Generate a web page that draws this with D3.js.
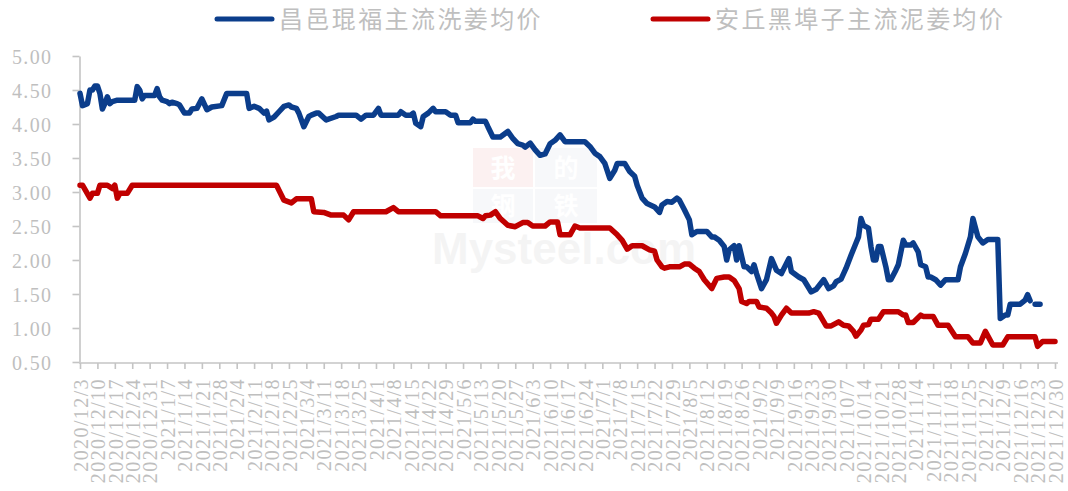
<!DOCTYPE html>
<html>
<head>
<meta charset="utf-8">
<script src="https://cdn.jsdelivr.net/npm/d3@7"></script>
<style>
  body { margin: 0; background: #fff; }
  .axis text { font-family: "Liberation Serif", serif; font-size: 20px; fill: #bfbfbf; letter-spacing: 1.4px; }
  .axis line, .axis path { stroke: #c4c4c4; stroke-width: 1.6; }
</style>
</head>
<body>
<svg id="chart" width="1068" height="491"></svg>
<script>
// series names shown in the legend
const seriesNames = ["昌邑琨福主流洗姜均价", "安丘黑埠子主流泥姜均价"];
const yTicks = [0.5, 1.0, 1.5, 2.0, 2.5, 3.0, 3.5, 4.0, 4.5, 5.0];
const dateRange = ["2020/12/3", "2021/12/30"];

// 昌邑琨福 wash ginger (blue)
const blueSeries = [
  ["2020/12/3",4.45],["2020/12/4",4.27],["2020/12/6",4.30],["2020/12/7",4.50],["2020/12/8",4.50],
  ["2020/12/9",4.56],["2020/12/10",4.56],["2020/12/11",4.45],["2020/12/12",4.22],["2020/12/13",4.30],
  ["2020/12/14",4.40],["2020/12/15",4.30],["2020/12/16",4.33],["2020/12/18",4.35],["2020/12/25",4.35],
  ["2020/12/26",4.55],["2020/12/27",4.50],["2020/12/28",4.37],["2020/12/29",4.42],["2021/1/2",4.42],
  ["2021/1/3",4.52],["2021/1/4",4.40],["2021/1/5",4.35],["2021/1/7",4.33],["2021/1/8",4.30],
  ["2021/1/9",4.32],["2021/1/11",4.30],["2021/1/12",4.28],["2021/1/14",4.16],["2021/1/16",4.16],
  ["2021/1/17",4.22],["2021/1/19",4.23],["2021/1/21",4.37],["2021/1/23",4.21],["2021/1/25",4.25],
  ["2021/1/29",4.27],["2021/1/31",4.45],["2021/2/8",4.45],["2021/2/9",4.23],["2021/2/11",4.26],
  ["2021/2/13",4.23],["2021/2/15",4.16],["2021/2/16",4.19],["2021/2/17",4.06],["2021/2/19",4.10],
  ["2021/2/21",4.18],["2021/2/23",4.26],["2021/2/25",4.28],["2021/2/26",4.25],["2021/2/28",4.23],
  ["2021/3/1",4.16],["2021/3/3",3.96],["2021/3/5",4.11],["2021/3/6",4.13],["2021/3/8",4.16],
  ["2021/3/9",4.16],["2021/3/12",4.06],["2021/3/16",4.11],["2021/3/17",4.13],["2021/3/24",4.13],
  ["2021/3/26",4.07],["2021/3/28",4.13],["2021/3/31",4.13],["2021/4/2",4.23],["2021/4/3",4.13],
  ["2021/4/10",4.13],["2021/4/11",4.18],["2021/4/13",4.13],["2021/4/15",4.13],["2021/4/16",4.16],
  ["2021/4/17",4.01],["2021/4/19",3.96],["2021/4/20",4.11],["2021/4/22",4.16],["2021/4/24",4.23],
  ["2021/4/25",4.18],["2021/4/29",4.18],["2021/5/1",4.13],["2021/5/3",4.13],["2021/5/4",4.02],
  ["2021/5/9",4.02],["2021/5/10",4.07],["2021/5/11",4.04],["2021/5/15",4.04],["2021/5/16",3.96],
  ["2021/5/18",3.81],["2021/5/21",3.81],["2021/5/24",3.89],["2021/5/26",3.79],["2021/5/28",3.71],
  ["2021/5/30",3.69],["2021/5/31",3.66],["2021/6/2",3.72],["2021/6/4",3.62],["2021/6/6",3.54],
  ["2021/6/8",3.56],["2021/6/10",3.71],["2021/6/12",3.76],["2021/6/14",3.84],["2021/6/16",3.74],
  ["2021/6/24",3.74],["2021/6/26",3.67],["2021/6/28",3.57],["2021/6/30",3.52],["2021/7/2",3.42],
  ["2021/7/4",3.20],["2021/7/6",3.32],["2021/7/7",3.42],["2021/7/10",3.42],["2021/7/12",3.30],
  ["2021/7/14",3.23],["2021/7/15",3.10],["2021/7/17",2.91],["2021/7/19",2.83],["2021/7/22",2.78],
  ["2021/7/24",2.70],["2021/7/25",2.81],["2021/7/27",2.86],["2021/7/29",2.85],["2021/7/31",2.91],
  ["2021/8/1",2.88],["2021/8/3",2.74],["2021/8/5",2.59],["2021/8/6",2.37],["2021/8/8",2.42],
  ["2021/8/12",2.42],["2021/8/14",2.34],["2021/8/15",2.34],["2021/8/17",2.29],["2021/8/19",2.20],
  ["2021/8/20",2.00],["2021/8/21",2.15],["2021/8/23",2.21],["2021/8/24",2.00],["2021/8/25",2.21],
  ["2021/8/27",1.90],["2021/8/28",1.90],["2021/8/30",1.83],["2021/8/31",1.93],["2021/9/1",1.80],
  ["2021/9/3",1.58],["2021/9/5",1.71],["2021/9/7",2.02],["2021/9/9",1.85],["2021/9/11",1.80],
  ["2021/9/14",2.02],["2021/9/15",1.83],["2021/9/18",1.75],["2021/9/20",1.71],["2021/9/23",1.53],
  ["2021/9/25",1.57],["2021/9/28",1.71],["2021/9/30",1.58],["2021/10/2",1.62],["2021/10/3",1.68],
  ["2021/10/5",1.72],["2021/10/7",1.88],["2021/10/9",2.07],["2021/10/11",2.25],["2021/10/12",2.34],
  ["2021/10/13",2.61],["2021/10/14",2.51],["2021/10/16",2.47],["2021/10/17",2.20],["2021/10/18",2.00],
  ["2021/10/19",2.00],["2021/10/20",2.20],["2021/10/21",2.20],["2021/10/23",1.90],["2021/10/24",1.71],
  ["2021/10/25",1.71],["2021/10/27",1.85],["2021/10/28",1.93],["2021/10/30",2.29],["2021/10/31",2.22],
  ["2021/11/2",2.22],["2021/11/3",2.25],["2021/11/5",2.12],["2021/11/6",1.93],["2021/11/8",1.90],
  ["2021/11/9",1.75],["2021/11/10",1.75],["2021/11/12",1.71],["2021/11/14",1.63],["2021/11/16",1.71],
  ["2021/11/21",1.71],["2021/11/22",1.90],["2021/11/24",2.10],["2021/11/26",2.34],["2021/11/27",2.61],
  ["2021/11/29",2.34],["2021/12/1",2.25],["2021/12/3",2.30],["2021/12/7",2.30],["2021/12/8",1.14],
  ["2021/12/10",1.19],["2021/12/11",1.19],["2021/12/12",1.35],["2021/12/16",1.35],["2021/12/18",1.41],
  ["2021/12/19",1.49],["2021/12/20",1.40],["2021/12/21",null],["2021/12/22",1.35],["2021/12/24",1.35]
];

// 安丘黑埠子 mud ginger (red)
const redSeries = [
  ["2020/12/3",3.10],["2020/12/4",3.10],["2020/12/7",2.91],["2020/12/8",2.98],["2020/12/10",2.98],
  ["2020/12/11",3.10],["2020/12/14",3.10],["2020/12/16",3.05],["2020/12/17",3.10],["2020/12/18",2.91],
  ["2020/12/19",2.98],["2020/12/22",2.98],["2020/12/24",3.10],["2021/2/20",3.10],["2021/2/23",2.88],
  ["2021/2/26",2.84],["2021/2/28",2.90],["2021/3/6",2.90],["2021/3/7",2.71],["2021/3/11",2.70],
  ["2021/3/14",2.66],["2021/3/19",2.66],["2021/3/21",2.59],["2021/3/23",2.71],["2021/4/5",2.71],
  ["2021/4/8",2.77],["2021/4/10",2.71],["2021/4/25",2.71],["2021/4/27",2.65],["2021/5/12",2.65],
  ["2021/5/14",2.61],["2021/5/15",2.65],["2021/5/17",2.66],["2021/5/19",2.71],["2021/5/21",2.61],
  ["2021/5/24",2.51],["2021/5/27",2.49],["2021/5/30",2.55],["2021/6/1",2.55],["2021/6/3",2.50],
  ["2021/6/8",2.50],["2021/6/10",2.56],["2021/6/13",2.56],["2021/6/14",2.37],["2021/6/18",2.37],
  ["2021/6/20",2.50],["2021/6/22",2.47],["2021/7/4",2.47],["2021/7/7",2.37],["2021/7/9",2.29],
  ["2021/7/11",2.16],["2021/7/13",2.21],["2021/7/17",2.21],["2021/7/20",2.15],["2021/7/22",2.13],
  ["2021/7/23",2.00],["2021/7/25",1.90],["2021/7/26",1.88],["2021/7/28",1.90],["2021/8/1",1.90],
  ["2021/8/3",1.94],["2021/8/5",1.94],["2021/8/7",1.88],["2021/8/9",1.83],["2021/8/11",1.71],
  ["2021/8/14",1.58],["2021/8/16",1.73],["2021/8/19",1.75],["2021/8/21",1.75],["2021/8/23",1.70],
  ["2021/8/25",1.58],["2021/8/26",1.39],["2021/8/28",1.36],["2021/8/29",1.39],["2021/9/1",1.39],
  ["2021/9/2",1.31],["2021/9/5",1.29],["2021/9/7",1.22],["2021/9/8",1.17],["2021/9/9",1.07],
  ["2021/9/11",1.19],["2021/9/13",1.29],["2021/9/15",1.22],["2021/9/22",1.22],["2021/9/24",1.24],
  ["2021/9/26",1.22],["2021/9/29",1.03],["2021/10/1",1.03],["2021/10/4",1.09],["2021/10/6",1.04],
  ["2021/10/8",1.03],["2021/10/10",0.95],["2021/10/11",0.88],["2021/10/13",0.97],["2021/10/14",1.04],
  ["2021/10/16",1.05],["2021/10/17",1.13],["2021/10/20",1.13],["2021/10/22",1.24],["2021/10/28",1.24],
  ["2021/10/30",1.19],["2021/10/31",1.19],["2021/11/1",1.08],["2021/11/3",1.08],["2021/11/6",1.19],
  ["2021/11/7",1.17],["2021/11/11",1.17],["2021/11/13",1.04],["2021/11/17",1.04],["2021/11/20",0.87],
  ["2021/11/25",0.87],["2021/11/27",0.78],["2021/11/30",0.78],["2021/12/2",0.95],["2021/12/5",0.75],
  ["2021/12/9",0.75],["2021/12/11",0.87],["2021/12/22",0.87],["2021/12/23",0.73],["2021/12/25",0.80],
  ["2021/12/30",0.80]
];

const colours = ["#0b3d8b", "#c00000"];

const svg = d3.select("#chart");
const parse = d3.timeParse("%Y/%m/%d");
const fmt = d3.timeFormat("%Y/%-m/%-d");

const start = parse(dateRange[0]), end = parse(dateRange[1]);
const x = d3.scaleTime().domain([start, end]).range([80, 1055]);
const y = d3.scaleLinear().domain([0.5, 5]).range([362, 56]);

// weekly ticks, like the excel date axis
const weekTicks = d3.timeDay.range(start, d3.timeDay.offset(end, 1), 7);

// very faint watermark behind the lines
const wm = svg.append("g").attr("class", "watermark").attr("opacity", 0.06);
wm.append("rect").attr("x", 473).attr("y", 148).attr("width", 60).attr("height", 39).attr("fill", "#d02020");
wm.append("rect").attr("x", 535).attr("y", 148).attr("width", 62).attr("height", 39).attr("fill", "#8090b0");
wm.append("rect").attr("x", 473).attr("y", 189).attr("width", 60).attr("height", 34).attr("fill", "#8090b0");
wm.append("rect").attr("x", 535).attr("y", 189).attr("width", 62).attr("height", 34).attr("fill", "#8090b0");
const wmChars = ["我", "的", "钢", "铁"];
wm.selectAll(".wmchar").data(wmChars)
  .join("text").attr("class", "wmchar")
  .attr("x", (d, i) => i % 2 === 0 ? 503 : 566)
  .attr("y", (d, i) => i < 2 ? 177 : 215)
  .attr("text-anchor", "middle")
  .style("font-family", "'Noto Sans CJK SC'").style("font-size", "25px").style("font-weight", "bold")
  .attr("fill", "#fff").text(d => d);
svg.append("text").attr("x", 432).attr("y", 264)
  .style("font-family", "Arial, 'Liberation Sans'").style("font-size", "44px").style("font-weight", "bold")
  .attr("fill", "#000").attr("opacity", 0.04).text("Mysteel.com");

// y axis
const yAxis = svg.append("g").attr("class", "axis")
  .attr("transform", "translate(79.5,0)")
  .call(d3.axisLeft(y).tickValues(yTicks).tickSize(7).tickSizeOuter(0).tickPadding(20).tickFormat(d3.format(".2f")));
yAxis.selectAll("text").attr("dy", "0.36em");

// x axis
const xAxis = svg.append("g").attr("class", "axis")
  .attr("transform", "translate(0,363)")
  .call(d3.axisBottom(x).tickValues(weekTicks).tickSize(6).tickSizeOuter(0).tickFormat(fmt));
xAxis.select(".domain").remove();
xAxis.append("line").attr("x1", 79).attr("x2", 1058).attr("y1", 0).attr("y2", 0);
xAxis.selectAll("text")
  .attr("transform", "rotate(-90)")
  .attr("x", -15).attr("y", 0).attr("dy", "0.36em")
  .style("text-anchor", "end");

// lines
const line = d3.line()
  .defined(d => d[1] !== null)
  .x(d => x(parse(d[0])))
  .y(d => y(d[1]));

svg.selectAll(".series")
  .data([blueSeries, redSeries])
  .join("path")
  .attr("class", "series")
  .attr("d", line)
  .attr("fill", "none")
  .attr("stroke", (d, i) => colours[i])
  .attr("stroke-width", 5.5)
  .attr("stroke-linejoin", "round")
  .attr("stroke-linecap", "round");

// legend
const legendX = [217, 653];
const legend = svg.selectAll(".legend")
  .data(seriesNames)
  .join("g").attr("class", "legend")
  .attr("transform", (d, i) => "translate(" + legendX[i] + ",19)");
legend.append("line").attr("x1", 0).attr("x2", 55)
  .attr("stroke", (d, i) => colours[i]).attr("stroke-width", 5).attr("stroke-linecap", "round");
legend.append("text").attr("x", 62).attr("dy", "0.36em")
  .style("font-family", "'Noto Sans CJK SC'").style("font-size", "24px").style("letter-spacing", "2.4px")
  .attr("fill", "#bfbfbf").text(d => d);
</script>
</body>
</html>
